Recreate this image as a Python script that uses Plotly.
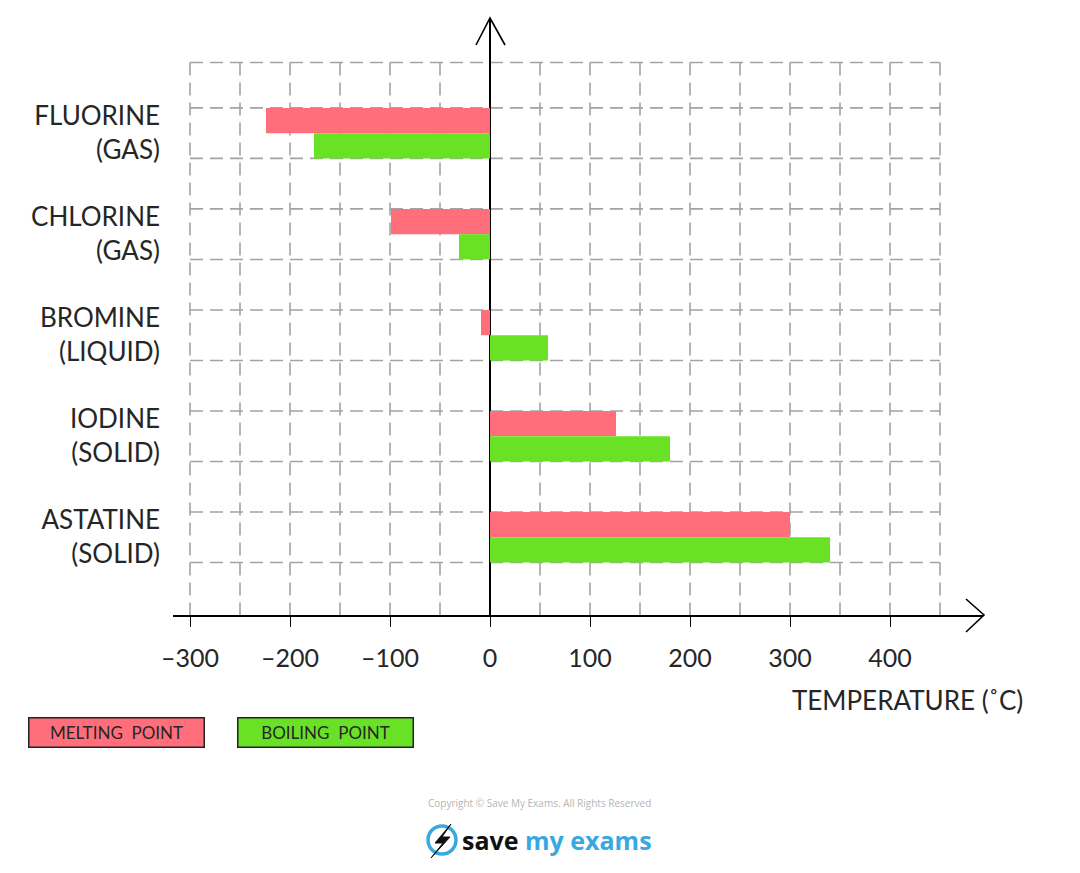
import plotly.graph_objects as go

# ---- data ----
elements = ["FLUORINE<br>(GAS)", "CHLORINE<br>(GAS)", "BROMINE<br>(LIQUID)",
            "IODINE<br>(SOLID)", "ASTATINE<br>(SOLID)"]
melting_point = [-224, -99, -9, 126, 300]
boiling_point = [-176, -31, 58, 180, 340]
x_tick_vals = [-300, -200, -100, 0, 100, 200, 300, 400]
x_tick_text = ["\u2013300", "\u2013200", "\u2013100", "0", "100", "200", "300", "400"]
grid_x = list(range(-300, 451, 50))

PINK = "#FF6E7A"
GREEN = "#69E226"
GRID = "#A3A3A3"
BLUE = "#3AA8E0"
TXT = "#262626"

W, H = 1080, 873
L, R, T, B = 173, 97, 18, 258
PW, PH = W - L - R, H - T - B


def px(x):
    return (x - L) / PW


def py(y):
    return (H - B - y) / PH


XR = [-317, 493]
YR = [4.77, -1.14]

fig = go.Figure()
fig.add_trace(go.Bar(y=elements, x=melting_point, orientation="h", name="MELTING POINT",
                     marker=dict(color=PINK, line=dict(width=0))))
fig.add_trace(go.Bar(y=elements, x=boiling_point, orientation="h", name="BOILING POINT",
                     marker=dict(color=GREEN, line=dict(width=0))))

shapes = []
# vertical dashed grid
for gx in grid_x:
    shapes.append(dict(type="line", xref="x", yref="y", x0=gx, x1=gx, y0=-0.70, y1=YR[0],
                       line=dict(color=GRID, width=1.6, dash="13px,7px"), layer="below"))
# horizontal dashed grid
grid_y = [-0.70] + [v for i in range(len(elements)) for v in (i - 0.25, i + 0.25)]
for gy in grid_y:
    shapes.append(dict(type="line", xref="x", yref="y", x0=grid_x[0], x1=grid_x[-1], y0=gy, y1=gy,
                       line=dict(color=GRID, width=1.6, dash="13px,7px"), layer="below"))
# arrow heads
shapes.append(dict(type="path", xref="paper", yref="paper",
                   path=f"M {px(476)} {py(45)} L {px(490)} {py(18)} L {px(505)} {py(45)}",
                   line=dict(color="black", width=1.6)))
shapes.append(dict(type="path", xref="paper", yref="paper",
                   path=f"M {px(966)} {py(599)} L {px(984)} {py(615)} L {px(966)} {py(632)}",
                   line=dict(color="black", width=1.6)))
# logo ring + bolt
shapes.append(dict(type="circle", xref="paper", yref="paper",
                   x0=px(428), x1=px(456), y0=py(826), y1=py(854),
                   line=dict(color=BLUE, width=3.5)))
shapes.append(dict(type="path", xref="paper", yref="paper",
                   path=(f"M {px(451)} {py(824)} L {px(435)} {py(843)} L {px(443)} {py(843)} "
                         f"L {px(431)} {py(858)} L {px(450)} {py(837)} L {px(442)} {py(837)} Z"),
                   fillcolor="#111111", line=dict(color="#111111", width=1)))

annotations = [
    dict(text="TEMPERATURE (\u02daC)", xref="paper", yref="paper", x=px(790), y=py(700),
         xanchor="left", yanchor="middle", showarrow=False,
         font=dict(family="Lato", size=26, color=TXT)),
    dict(text="MELTING  POINT", xref="paper", yref="paper", x=px(28), y=py(733),
         xanchor="left", yanchor="middle", showarrow=False, width=172, height=26,
         bgcolor=PINK, bordercolor="#222222", borderwidth=1.5, borderpad=1, align="center",
         font=dict(family="Lato", size=17, color=TXT)),
    dict(text="BOILING  POINT", xref="paper", yref="paper", x=px(237), y=py(733),
         xanchor="left", yanchor="middle", showarrow=False, width=172, height=26,
         bgcolor=GREEN, bordercolor="#222222", borderwidth=1.5, borderpad=1, align="center",
         font=dict(family="Lato", size=17, color=TXT)),
    dict(text="Copyright \u00a9 Save My Exams. All Rights Reserved", xref="paper", yref="paper",
         x=px(539), y=py(803), xanchor="center", yanchor="middle", showarrow=False,
         font=dict(family="Open Sans", size=10, color="#B5B5B5")),
    dict(text=f"<b>save</b> <b><span style='color:{BLUE}'>my exams</span></b>", xref="paper", yref="paper",
         x=px(460), y=py(840), xanchor="left", yanchor="middle", showarrow=False,
         font=dict(family="Open Sans", size=25, color="#111111")),
]

fig.update_layout(
    width=W, height=H,
    margin=dict(l=L, r=R, t=T, b=B, pad=0),
    paper_bgcolor="white", plot_bgcolor="white",
    barmode="group", bargap=0.5, bargroupgap=0,
    showlegend=False,
    shapes=shapes, annotations=annotations,
    xaxis=dict(range=XR, showgrid=False, zeroline=True, zerolinecolor="black", zerolinewidth=1.6,
               showline=True, linecolor="black", linewidth=1.6,
               tickmode="array", tickvals=x_tick_vals, ticktext=x_tick_text,
               ticks="outside", ticklen=10, tickwidth=1.3, tickcolor="black",
               ticklabelstandoff=10,
               tickfont=dict(family="Lato", size=25, color=TXT)),
    yaxis=dict(range=YR, type="category", showgrid=False, zeroline=False, showline=False,
               ticks="", ticklabelstandoff=12,
               tickfont=dict(family="Lato", size=26, color=TXT)),
)

fig.write_html("out.html")
